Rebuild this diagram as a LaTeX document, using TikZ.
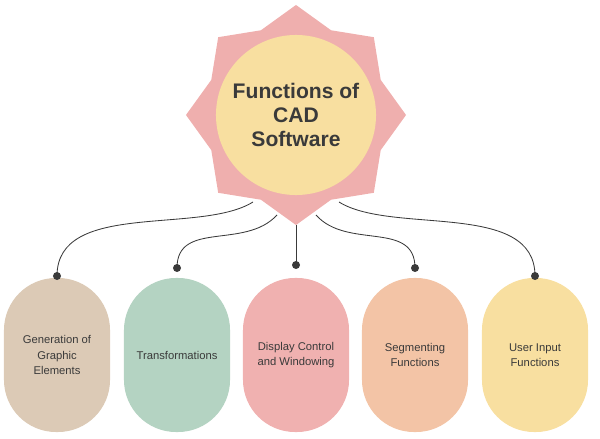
\documentclass[tikz,border=0pt]{standalone}
\usepackage{fontspec}
\setmainfont{Liberation Sans}
\usetikzlibrary{shapes.geometric}
\definecolor{starpink}{HTML}{EFAFAE}
\definecolor{coreyellow}{HTML}{F8DFA0}
\definecolor{pilltan}{HTML}{DCCAB6}
\definecolor{pillgreen}{HTML}{B4D3C2}
\definecolor{pillpink}{HTML}{F0B1B0}
\definecolor{pillpeach}{HTML}{F3C4A6}
\definecolor{pillyellow}{HTML}{F8DFA0}
\definecolor{inkgrey}{HTML}{3A3A3A}
\begin{document}
\begin{tikzpicture}[%
    x=0.025cm,
    y=-0.025cm,
    font=\color{inkgrey},
    badge/.style={%
      star,
      star points=8,
      star point ratio=1.2,
      minimum size=5.5cm,
      inner sep=0pt,
      fill=starpink
    },
    core/.style={%
      circle,
      minimum size=4cm,
      fill=coreyellow,
      align=center,
      font=\fontsize{15}{17}\selectfont\bfseries\color{inkgrey}
    },
    pill/.style={%
      rectangle,
      rounded corners=1.3cm,
      minimum width=2.65cm,
      minimum height=3.85cm,
      align=center,
      font=\fontsize{8}{11}\selectfont\color{inkgrey}
    },
    link/.style={draw=inkgrey, line width=0.6pt},
    dot/.style={circle, fill=inkgrey, inner sep=0pt, minimum size=0.2cm}
  ]
    \useasboundingbox (0,0) rectangle (600,439);
    \node[badge] (hub) at (296,115) {};
    \node[core] (title) at (296,115) {Functions of\\CAD\\Software};

    \node[pill, fill=pilltan]    (gen)  at (57,355)  {Generation of\\Graphic\\Elements};
    \node[pill, fill=pillgreen]  (trf)  at (177,355) {Transformations};
    \node[pill, fill=pillpink]   (disp) at (296,355) {Display Control\\and Windowing};
    \node[pill, fill=pillpeach]  (seg)  at (415,355) {Segmenting\\Functions};
    \node[pill, fill=pillyellow] (user) at (535,355) {User Input\\Functions};

    \coordinate (s1) at (253,202);
    \coordinate (s2) at (277,215);
    \coordinate (s3) at (296,225);
    \coordinate (s4) at (316,215);
    \coordinate (s5) at (339,202);

    \node[dot] (d1) at (57,276)  {};
    \node[dot] (d2) at (177,268) {};
    \node[dot] (d3) at (296,265) {};
    \node[dot] (d4) at (415,268) {};
    \node[dot] (d5) at (535,276) {};

    \path[link] (s1) .. controls (200,235) and (57,200) .. (d1.center);
    \path[link] (s2) .. controls (245,250) and (177,220) .. (d2.center);
    \path[link] (s3) -- (d3.center);
    \path[link] (s4) .. controls (347,250) and (415,220) .. (d4.center);
    \path[link] (s5) .. controls (392,235) and (535,200) .. (d5.center);
  \end{tikzpicture}
\end{document}
